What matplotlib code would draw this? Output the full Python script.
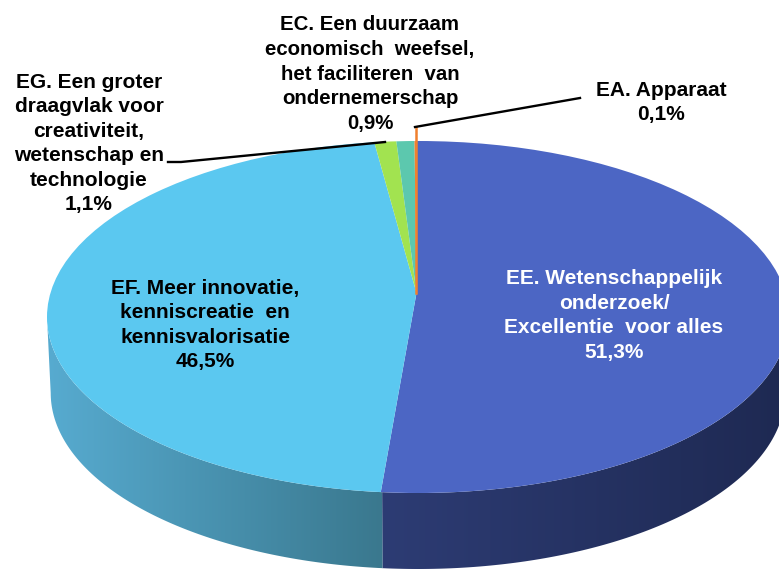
import numpy as np
import matplotlib
matplotlib.use('Agg')
import matplotlib.pyplot as plt
from matplotlib.colors import LinearSegmentedColormap
from matplotlib.patches import Ellipse, Polygon

labels = ['EE. Wetenschappelijk\nonderzoek/\nExcellentie  voor alles\n51,3%',
          'EF. Meer innovatie,\nkenniscreatie  en\nkennisvalorisatie\n46,5%',
          'EG. Een groter\ndraagvlak voor\ncreativiteit,\nwetenschap en\ntechnologie\n1,1%',
          'EC. Een duurzaam\neconomisch  weefsel,\nhet faciliteren  van\nondernemerschap\n0,9%',
          'EA. Apparaat\n0,1%']
values = [51.3, 46.5, 1.1, 0.9, 0.1]
colors = ['#4c66c4', '#5bc8f0', '#a2e350', '#5cc8ae', '#f0802e']

# pixel geometry of the reference ellipse
CX, CY, RX, RY = 418, 317, 371, 176
HUB_PX, HUB_PY = 416.5, 293    # wedges meet above the ellipse middle (perspective)
DEPTH = 76 / RY
FLOOR = 0.99    # lower rim a bit narrower than the top

plt.rcParams['font.family'] = ['Liberation Sans', 'DejaVu Sans']
fig = plt.figure(figsize=(7.79, 5.72), dpi=100)
ax = fig.add_axes([0, 0, 1, 1])


def px(x):
    return (x - CX) / RX


def py(y):
    return (CY - y) / RY


hub = (px(HUB_PX), py(HUB_PY))


def seam_angle(frac):
    # where the wedge edge from the hub hits the rim
    a = np.pi / 2 - 2 * np.pi * frac
    dx, dy = np.cos(a), np.sin(a)
    b = hub[0] * dx + hub[1] * dy
    s = -b + np.sqrt(b * b - (hub[0] ** 2 + hub[1] ** 2 - 1))
    return np.arctan2(hub[1] + s * dy, hub[0] + s * dx)


seam = seam_angle(values[0] / 100)
if seam > 0:
    seam -= 2 * np.pi


def wall(t0, t1, c0, c1):
    # side wall, part of the rim plus depth, shaded left to right
    t = np.linspace(t0, t1, 120)
    x, y = np.cos(t), np.sin(t)
    pts = np.r_[np.c_[x, y], np.c_[x[::-1] * FLOOR, y[::-1] - DEPTH]]
    poly = Polygon(pts, closed=True, fc='none', ec='none', zorder=1)
    ax.add_patch(poly)
    cmap = LinearSegmentedColormap.from_list('w', [c0, c1])
    im = ax.imshow(np.linspace(0, 1, 256)[None, :], cmap=cmap, aspect='auto',
                   extent=(x.min(), x.max(), -1 - DEPTH, 0.2), zorder=1)
    im.set_clip_path(poly)


wall(seam, 0, '#2d3c74', '#1e2952')
wall(-np.pi, seam, '#57abd0', '#3a788e')

wedges, _ = ax.pie(values, colors=colors, startangle=90, counterclock=False,
                   radius=3, center=hub, wedgeprops=dict(linewidth=0))
rim = Ellipse((0, 0), 2, 2, fc='none', ec='none')
ax.add_patch(rim)
for w in wedges:
    w.set_zorder(2)
    w.set_clip_on(True)
    w.set_clip_path(rim)

# orange stub runs from the hub up out of the pie
ax.plot([px(415.5), px(415.5)], [py(127), py(HUB_PY)], color=colors[4], lw=1.8, zorder=3)
ax.plot([px(168), px(181), px(385)], [py(162), py(162), py(142)], color='black', lw=1.7, zorder=4)
ax.plot([px(580), px(415)], [py(98), py(127)], color='black', lw=1.7, zorder=4)

ax.set_aspect('auto')
ax.set_xlim(px(0), px(779))
ax.set_ylim(py(572), py(0))
ax.axis('off')

txt = dict(ha='center', va='center', fontweight='bold', linespacing=1.37, zorder=5)
ax.text(px(614), py(315.5), labels[0], color='white', fontsize=15, **txt)
ax.text(px(205), py(325), labels[1], color='black', fontsize=15, **txt)
ax.text(px(89), py(143.5), labels[2], color='black', fontsize=15, **txt)
ax.text(px(370), py(74), labels[3], color='black', fontsize=14.7, **txt)
ax.text(px(661), py(102.5), labels[4], color='black', fontsize=15, **txt)

fig.savefig('out.png', dpi=100)
